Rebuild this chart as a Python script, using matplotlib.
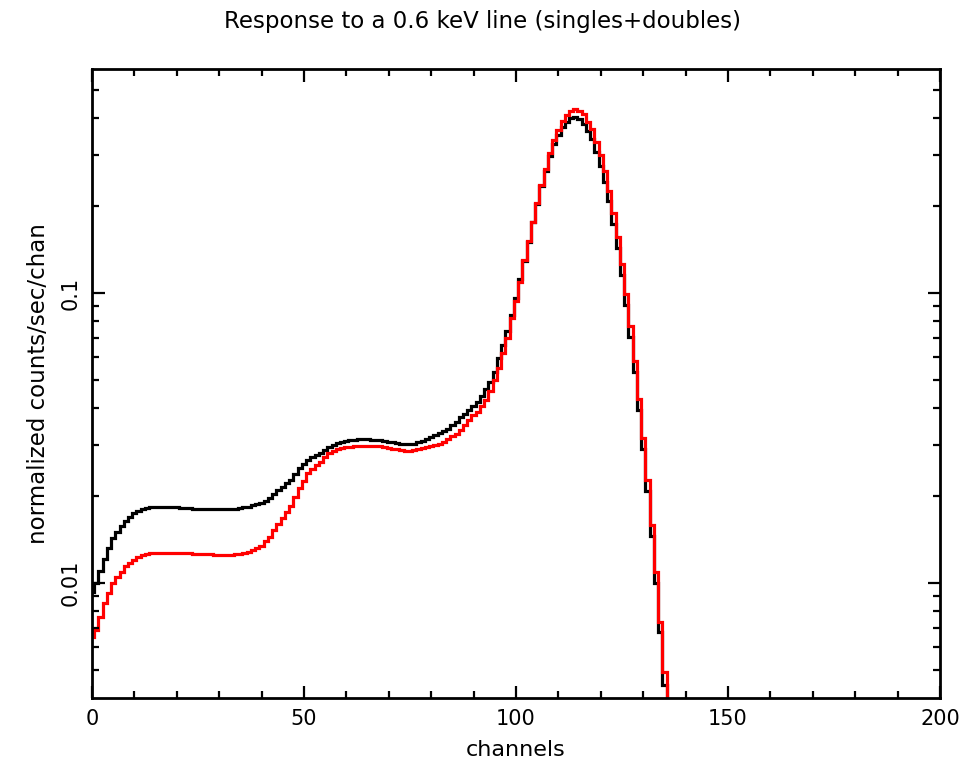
import matplotlib
matplotlib.use("Agg")
import matplotlib.pyplot as plt
from matplotlib.ticker import FixedLocator, LogLocator, NullFormatter, MultipleLocator

# channel numbers (each bin is centred on its channel)
channels = list(range(0, 137))

# singles+doubles response, black curve
black_counts = [
    0.0093, 0.0100, 0.0110, 0.0121, 0.0132, 0.0143, 0.0150, 0.0157, 0.0164, 0.0169,
    0.0174, 0.0177, 0.0180, 0.0181, 0.0182, 0.0182, 0.0182, 0.0182, 0.0182, 0.0182,
    0.0182, 0.0181, 0.0181, 0.0181, 0.0180, 0.0180, 0.0180, 0.0180, 0.0180, 0.0180,
    0.0180, 0.0180, 0.0180, 0.0180, 0.0180, 0.0181, 0.0182, 0.0183, 0.0185, 0.0187,
    0.0189, 0.0192, 0.0196, 0.0202, 0.0209, 0.0215, 0.0221, 0.0227, 0.0238, 0.0249,
    0.0258, 0.0266, 0.0272, 0.0277, 0.0281, 0.0288, 0.0295, 0.0300, 0.0303, 0.0306,
    0.0309, 0.0311, 0.0312, 0.0313, 0.0313, 0.0313, 0.0312, 0.0311, 0.0310, 0.0309,
    0.0307, 0.0305, 0.0303, 0.0302, 0.0301, 0.0301, 0.0302, 0.0305, 0.0309, 0.0313,
    0.0318, 0.0323, 0.0328, 0.0334, 0.0340, 0.0350, 0.0360, 0.0372, 0.0383, 0.0395,
    0.0408, 0.0422, 0.0440, 0.0466, 0.0495, 0.0532, 0.0597, 0.0664, 0.0740, 0.0842,
    0.0964, 0.1117, 0.1294, 0.1500, 0.1752, 0.2028, 0.2333, 0.2630, 0.2970, 0.3270,
    0.3500, 0.3740, 0.3900, 0.4020, 0.4040, 0.3980, 0.3840, 0.3610, 0.3390, 0.3060,
    0.2750, 0.2420, 0.2068, 0.1729, 0.1428, 0.1153, 0.0911, 0.0706, 0.0535, 0.0396,
    0.0290, 0.0208, 0.01455, 0.0100, 0.00675, 0.00445, 0.0010,
]

# red curve
red_counts = [
    0.0065, 0.0069, 0.0076, 0.0085, 0.0092, 0.0100, 0.0105, 0.0109, 0.0114, 0.0117,
    0.0120, 0.0123, 0.0125, 0.0126, 0.0127, 0.0127, 0.0127, 0.0127, 0.0127, 0.0127,
    0.0127, 0.0127, 0.0127, 0.0127, 0.0126, 0.0126, 0.0126, 0.0126, 0.0126, 0.0125,
    0.0125, 0.0125, 0.0125, 0.0125, 0.0126, 0.0126, 0.0127, 0.0128, 0.0130, 0.0132,
    0.0134, 0.0139, 0.0144, 0.0152, 0.0160, 0.0168, 0.0176, 0.0184, 0.0198, 0.0212,
    0.0225, 0.0239, 0.0247, 0.0255, 0.0262, 0.0271, 0.0280, 0.0285, 0.0289, 0.0292,
    0.0294, 0.0295, 0.0296, 0.0297, 0.0297, 0.0297, 0.0297, 0.0297, 0.0296, 0.0294,
    0.0292, 0.0290, 0.0289, 0.0287, 0.0286, 0.0286, 0.0287, 0.0289, 0.0292, 0.0295,
    0.0297, 0.0299, 0.0302, 0.0307, 0.0313, 0.0320, 0.0327, 0.0337, 0.0350, 0.0365,
    0.0378, 0.0390, 0.0408, 0.0428, 0.0460, 0.0500, 0.0550, 0.0620, 0.0698, 0.0818,
    0.0941, 0.1094, 0.1300, 0.1515, 0.1762, 0.2038, 0.2357, 0.2670, 0.3031, 0.3371,
    0.3648, 0.3918, 0.4110, 0.4252, 0.4300, 0.4258, 0.4126, 0.3897, 0.3668, 0.3323,
    0.2991, 0.2634, 0.2253, 0.1883, 0.1556, 0.1256, 0.0992, 0.0769, 0.0583, 0.0431,
    0.03155, 0.02265, 0.01585, 0.01089, 0.00735, 0.00491, 0.0010,
]

y_ticks = [0.01, 0.1]
y_tick_labels = ["0.01", "0.1"]

fig = plt.figure(figsize=(9.65, 7.67), dpi=100)
ax = fig.add_axes([0.0953, 0.09, 0.8788, 0.82])

edges = [c - 0.5 for c in channels] + [channels[-1] + 0.5]
ax.stairs(black_counts, edges, baseline=None, color="black", linewidth=2.3)
ax.stairs(red_counts, edges, baseline=None, color="red", linewidth=2.3)

ax.set_yscale("log")
ax.set_xlim(0, 200)
ax.set_ylim(0.00401, 0.592)

ax.xaxis.set_major_locator(MultipleLocator(50))
ax.xaxis.set_minor_locator(MultipleLocator(10))
ax.yaxis.set_major_locator(FixedLocator(y_ticks))
ax.yaxis.set_minor_locator(LogLocator(base=10, subs=range(2, 10)))
ax.yaxis.set_minor_formatter(NullFormatter())
ax.set_yticklabels(y_tick_labels, rotation=90, va="center")

ax.tick_params(which="both", direction="in", top=True, right=True, width=1.6,
               labelsize=15, pad=8)
ax.tick_params(which="major", length=9)
ax.tick_params(which="minor", length=5)
for s in ax.spines.values():
    s.set_linewidth(2.0)

ax.set_xlabel("channels", fontsize=16, labelpad=8)
ax.set_ylabel("normalized counts/sec/chan", fontsize=16.5, labelpad=8)
fig.suptitle("Response to a 0.6 keV line (singles+doubles)", fontsize=16.5, y=0.987)

fig.savefig("out.png", dpi=100)
